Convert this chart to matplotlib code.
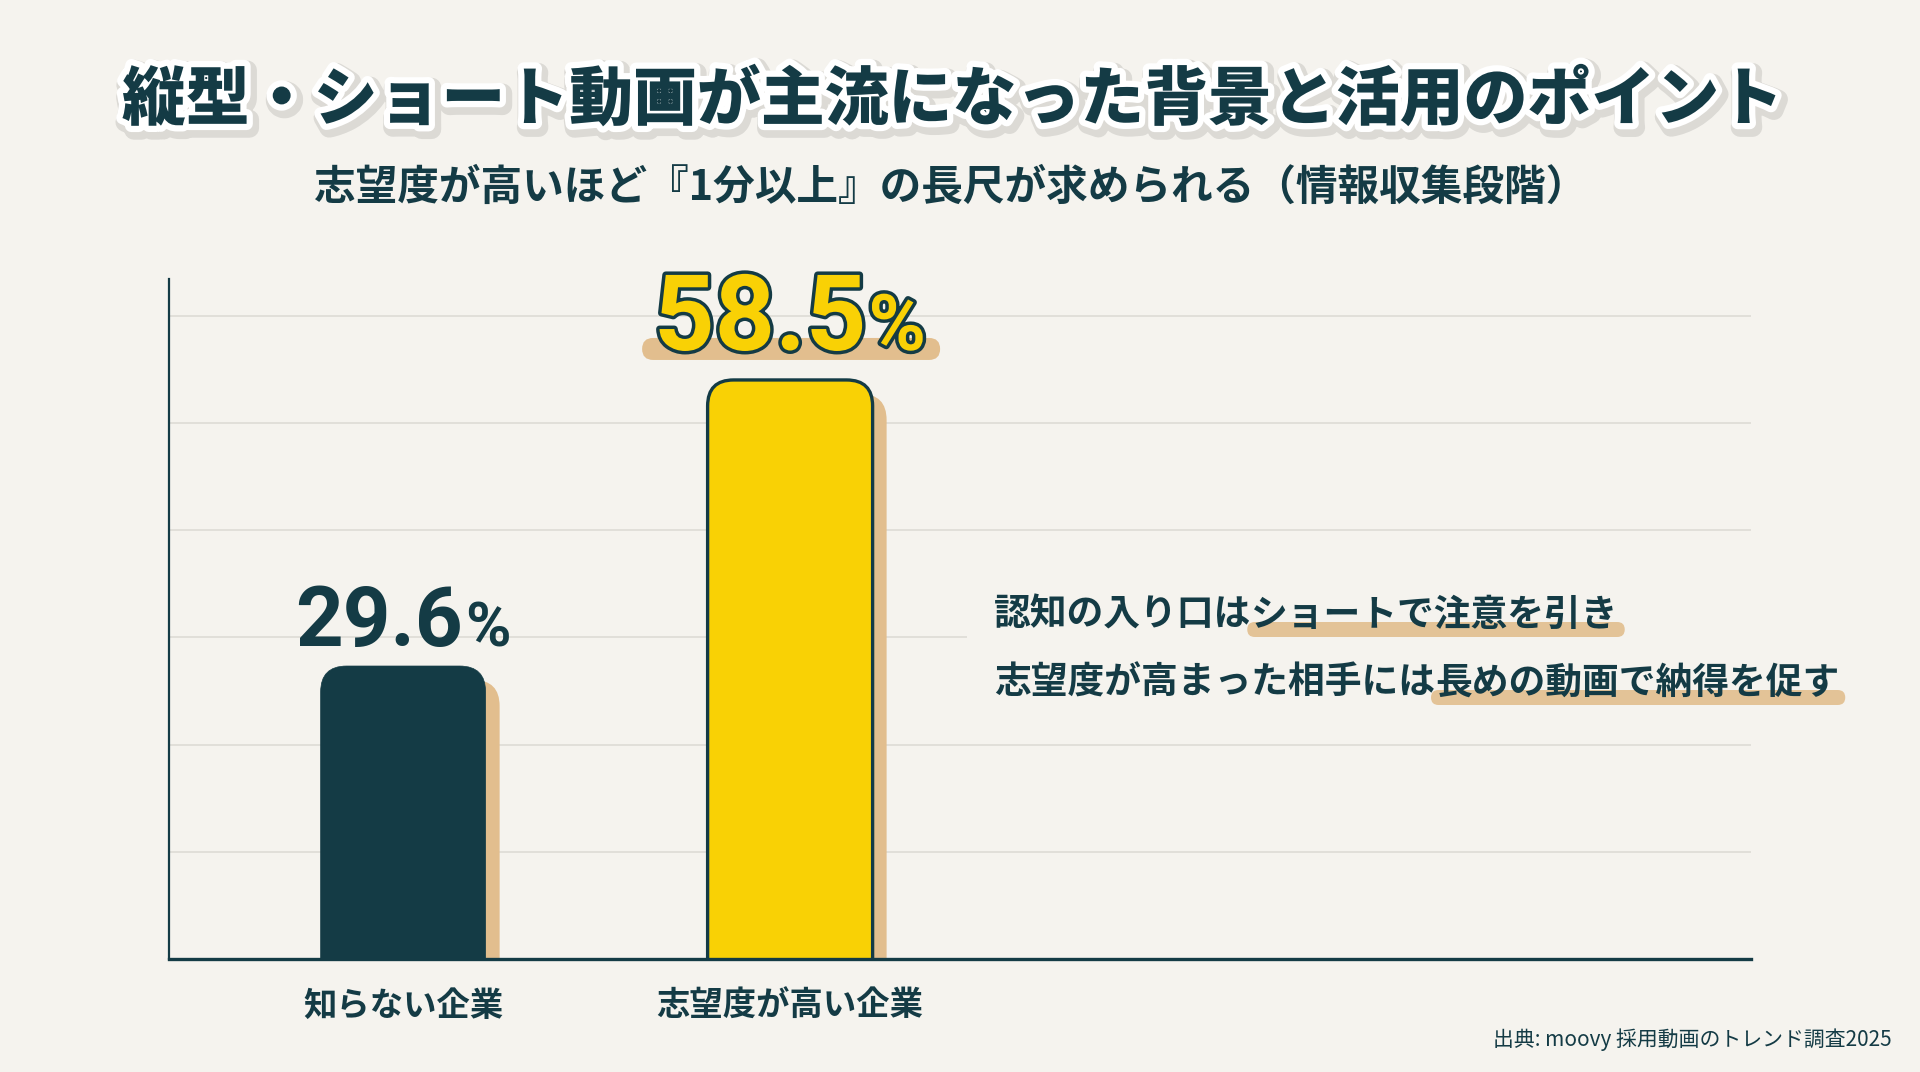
import matplotlib
matplotlib.use('Agg')
import matplotlib.pyplot as plt
from matplotlib.patches import FancyBboxPatch, Rectangle
import matplotlib.patheffects as pe
from matplotlib.transforms import ScaledTranslation, IdentityTransform

# ---------------- data ----------------
categories = ['知らない企業', '志望度が高い企業']
values = [29.6, 58.5]
value_texts = ['29.6', '58.5']
highlighted = [False, True]

title = '縦型・ショート動画が主流になった背景と活用のポイント'
subtitle = '志望度が高いほど『1分以上』の長尺が求められる（情報収集段階）'
note_prefixes = ['認知の入り口は', '志望度が高まった相手には']
note_marks = ['ショートで注意を引き', '長めの動画で納得を促す']
source = '出典: moovy 採用動画のトレンド調査2025'

# ---------------- style ----------------
BG = '#F5F3EE'
DARK = '#143B45'
YELLOW = '#F9D105'
TAN = '#E2BE8E'
GRID = '#DEDBD5'

plt.rcParams['font.family'] = ['Noto Sans CJK JP', 'DejaVu Sans']

W, H = 1920, 1072
fig = plt.figure(figsize=(W / 100, H / 100), dpi=100, facecolor=BG)
ax = fig.add_axes([169 / W, 1 - 959 / H, (1751 - 169) / W, (959 - 279) / H])
ax.set_facecolor('none')
ax.set_xlim(-0.605, 3.483)
ax.set_ylim(0, 68.7)

for s in ['top', 'right']:
    ax.spines[s].set_visible(False)
ax.spines['left'].set_color(DARK)
ax.spines['left'].set_linewidth(1.6)
ax.spines['bottom'].set_color(DARK)
ax.spines['bottom'].set_linewidth(2.4)
ax.set_yticks([])
ax.set_xticks(range(len(categories)))
ax.set_xticklabels(categories, fontsize=24, fontweight='bold', color=DARK)
ax.tick_params(axis='x', length=0, pad=22)

# decorative horizontal guide lines
for k in range(1, 7):
    f = k * 0.1577
    ax.plot([0, 1], [f, f], transform=ax.transAxes, color=GRID, lw=1.2, zorder=1)

# scale factors for rounded corners
fig.canvas.draw()
bb = ax.get_window_extent()
x0l, x1l = ax.get_xlim()
y0l, y1l = ax.get_ylim()
px_per_x = bb.width / (x1l - x0l)
px_per_y = bb.height / (y1l - y0l)
aspect = px_per_x / px_per_y
bar_w = 165 / px_per_x
rnd = 26 / px_per_x

shadow_tr = ax.transData + ScaledTranslation(0.14, -0.14, fig.dpi_scale_trans)
for i, (v, hl) in enumerate(zip(values, highlighted)):
    x0 = i - bar_w / 2
    base = -8
    sh = FancyBboxPatch((x0, base), bar_w, v - base,
                        boxstyle=f'round,pad=0,rounding_size={rnd}',
                        mutation_aspect=aspect, facecolor=TAN, edgecolor='none',
                        transform=shadow_tr, zorder=1.5)
    ax.add_patch(sh)
    bar = FancyBboxPatch((x0, base), bar_w, v - base,
                         boxstyle=f'round,pad=0,rounding_size={rnd}',
                         mutation_aspect=aspect,
                         facecolor=YELLOW if hl else DARK,
                         edgecolor=DARK, linewidth=2.4 if hl else 0.5,
                         zorder=2)
    ax.add_patch(bar)

# value labels
renderer = fig.canvas.get_renderer()
for i, (v, t, hl) in enumerate(zip(values, value_texts, highlighted)):
    fs = 76 if hl else 60
    dy = 30 if hl else 20
    if hl:
        kw = dict(color=YELLOW,
                  path_effects=[pe.withStroke(linewidth=5, foreground=DARK)])
    else:
        kw = dict(color=DARK)
    t1 = ax.annotate(t, xy=(i, v), xytext=(0, dy), textcoords='offset pixels',
                     ha='left', va='baseline', fontsize=fs, fontweight='bold',
                     family=['Roboto', 'DejaVu Sans'], zorder=6,
                     annotation_clip=False, **kw)
    t2 = ax.annotate('%', xy=(i, v), xytext=(0, dy), textcoords='offset pixels',
                     ha='left', va='baseline', fontsize=fs * 0.74, fontweight='bold',
                     family=['Roboto', 'DejaVu Sans'], zorder=6,
                     annotation_clip=False, **kw)
    w1 = t1.get_window_extent(renderer).width
    w2 = t2.get_window_extent(renderer).width
    tot = w1 + w2 + 2
    t1.xyann = (-tot / 2, dy)
    t2.xyann = (-tot / 2 + w1 + 2, dy)
    if hl:
        xc, yc = ax.transData.transform((i, v))
        yb = yc + dy
        hlp = FancyBboxPatch((xc - tot / 2 - 12, yb - 10), tot + 26, 22,
                             boxstyle='round,pad=0,rounding_size=11',
                             facecolor=TAN, edgecolor='none',
                             transform=IdentityTransform(), zorder=4,
                             clip_on=False)
        ax.add_artist(hlp)

# title & subtitle
fig.text(0.496, 1 - 101 / H, title, ha='center', va='center', fontsize=46,
         fontweight='heavy', color=DARK,
         path_effects=[pe.Stroke(linewidth=14, foreground=(0, 0, 0, 0.10), offset=(2, -3)),
                       pe.Stroke(linewidth=9, foreground='white'),
                       pe.Normal()])
fig.text(0.495, 1 - 188 / H, subtitle, ha='center', va='center', fontsize=30,
         fontweight='bold', color=DARK)

# cover box behind the notes
cover = Rectangle((967, H - 720), 800, 140, transform=IdentityTransform(),
                  facecolor=BG, edgecolor='none', zorder=1)
fig.patches.append(cover)
cover.set_figure(fig)

# notes with highlighted parts
baselines = [626, 694]
for pre, mark, by in zip(note_prefixes, note_marks, baselines):
    yb = H - by
    tp = fig.text(994 / W, yb / H, pre, ha='left', va='baseline', fontsize=26.5,
                  fontweight='bold', color=DARK, zorder=5)
    wp = tp.get_window_extent(renderer).width
    tm = fig.text((994 + wp) / W, yb / H, mark, ha='left', va='baseline', fontsize=26.5,
                  fontweight='bold', color=DARK, zorder=5)
    wm = tm.get_window_extent(renderer).width
    hp = FancyBboxPatch((994 + wp - 4, yb - 11), wm + 10, 15,
                        boxstyle='round,pad=0,rounding_size=7.5',
                        facecolor=TAN, edgecolor='none', alpha=0.9,
                        transform=IdentityTransform(), zorder=4)
    fig.patches.append(hp)
    hp.set_figure(fig)

# source
fig.text(1892 / W, 1 - 1040 / H, source, ha='right', va='center', fontsize=15,
         color=DARK)

fig.savefig('out.png', dpi=100, facecolor=BG)
